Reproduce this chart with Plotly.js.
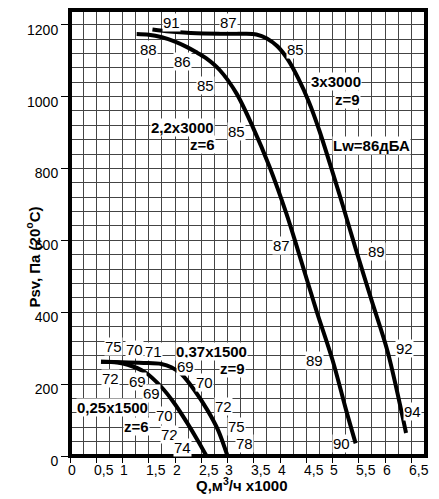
<!DOCTYPE html>
<html>
<head>
<meta charset="utf-8">
<script src="https://cdn.plot.ly/plotly-3.0.1.min.js"></script>
<style>html,body{margin:0;padding:0;background:#fff;}#chart{width:439px;height:499px;}</style>
</head>
<body>
<div id="chart"></div>
<script>
// Curve 3x3000, z=9
const qA = [1.57, 1.9, 2.3, 2.85, 3.3, 3.55, 3.75, 3.95, 4.15, 4.35, 4.55, 4.75, 5.0, 5.2, 5.45, 5.75, 6.05, 6.40];
const pA = [1187, 1181, 1177, 1175, 1175, 1173, 1162, 1140, 1103, 1050, 985, 905, 790, 695, 572, 430, 290, 64];
// Curve 2,2x3000, z=6
const qB = [1.27, 1.5, 1.75, 2.0, 2.21, 2.4, 2.59, 2.85, 3.17, 3.48, 3.80, 4.12, 4.34, 4.69, 5.0, 5.26, 5.44];
const pB = [1174, 1172, 1165, 1153, 1139, 1124, 1107, 1074, 1009, 916, 805, 675, 573, 406, 267, 127, 35];
// Curve 0,37x1500, z=9
const qC = [0.59, 1.0, 1.4, 1.74, 1.93, 2.12, 2.37, 2.62, 2.82, 3.0];
const pC = [262, 261, 259, 256, 247, 228, 183, 127, 72, 0];
// Curve 0,25x1500, z=6
const qD = [0.59, 0.9, 1.10, 1.42, 1.74, 1.99, 2.24, 2.43, 2.6];
const pD = [262, 260, 254, 234, 192, 146, 90, 44, 0];

// Axis ticks
const xTickVals = [0, 0.5, 1, 1.5, 2, 2.5, 3, 3.5, 4, 4.5, 5, 5.5, 6, 6.5];
const xTickText = ['0', '0,5', '1', '1,5', '2', '2,5', '3', '3,5', '4', '4,5', '5', '5,5', '6', '6,5'];
const yTickVals = [0, 200, 400, 600, 800, 1000, 1200];
const yTickText = ['0', '200', '400', '600', '800', '1000', '1200'];

// Chart labels
const lblText = ['91','87','88','86','85','85','3x3000','z=9','2,2x3000','z=6','85','Lw=86дБА','87','89','89','92','90','94',
  '75','70','71','0,37x1500','z=9','69','70','72','75','78','72','69','69','0,25x1500','z=6','70','72','74'];
const lblQ = [1.93,3.01,1.50,2.14,2.58,4.30,5.07,5.29,2.15,2.53,3.17,5.74,4.02,5.83,4.66,6.37,5.17,6.53,
  0.83,1.22,1.59,2.70,3.10,2.20,2.56,2.93,3.17,3.32,0.77,1.28,1.55,0.81,1.27,1.80,1.90,2.15];
const lblP = [1206,1206,1130,1098,1030,1132,1042,991,914,866,904,863,587,570,267,299,35,125,
  304,296,290,290,243,248,204,139,81,36,215,206,174,136,83,113,60,25];
const lblBold = ['3x3000','z=9','2,2x3000','z=6','Lw=86дБА','0,37x1500','0,25x1500'];

const font = 'Liberation Sans, Arial, sans-serif';

const traces = [[qA,pA],[qB,pB],[qC,pC],[qD,pD]].map(([q,p]) => ({
  x: q, y: p, type: 'scatter', mode: 'lines',
  line: {color: '#000', width: 4, shape: 'spline', smoothing: 0.9},
  hoverinfo: 'skip', showlegend: false
}));

const annotations = [];
for (let i = 0; i < lblText.length; i++) {
  const b = lblBold.includes(lblText[i]);
  annotations.push({
    x: lblQ[i], y: lblP[i], xref: 'x', yref: 'y',
    text: b ? '<b>' + lblText[i] + '</b>' : lblText[i],
    showarrow: false, font: {family: font, size: 15, color: '#000'},
    bgcolor: '#fff', borderpad: 0
  });
}
for (let i = 0; i < xTickVals.length; i++) {
  annotations.push({
    x: xTickVals[i], y: 0, xref: 'x', yref: 'paper',
    text: xTickText[i], showarrow: false, xanchor: 'left', yanchor: 'top',
    xshift: -4.5, yshift: -4,
    font: {family: font, size: 14, color: '#000'}
  });
}
annotations.push({
  x: -0.1376, y: 0.446, xref: 'paper', yref: 'paper', textangle: -90,
  text: '<b>Psv, Па (20<sup>o</sup>C)</b>', showarrow: false,
  font: {family: font, size: 15, color: '#000'}
});
annotations.push({
  x: 0.483, y: -0.063, xref: 'paper', yref: 'paper',
  text: '<b>Q,м<sup>3</sup>/ч x1000</b>', showarrow: false, yanchor: 'middle',
  font: {family: font, size: 15, color: '#000'}
});

const layout = {
  width: 439, height: 499,
  margin: {l: 70, r: 13, t: 10, b: 43, pad: 0},
  paper_bgcolor: '#fff', plot_bgcolor: '#fff',
  font: {family: font, size: 14, color: '#000'},
  xaxis: {
    range: [0, 6.78], tickmode: 'array', tickvals: xTickVals, ticktext: xTickText,
    showticklabels: false, ticks: 'outside', ticklen: 6, tickcolor: '#000', tickwidth: 1,
    showgrid: true, gridcolor: '#444', gridwidth: 1, zeroline: false, showline: false,
    minor: {dtick: 0.25, tick0: 0, showgrid: true, gridcolor: '#444', gridwidth: 1, ticks: ''}
  },
  yaxis: {
    range: [0, 1241], tickmode: 'array', tickvals: yTickVals, ticktext: yTickText,
    ticks: 'outside', ticklen: 8, tickcolor: '#000', tickwidth: 1, ticklabelshift: 5,
    tickfont: {family: font, size: 14, color: '#000'},
    showgrid: true, gridcolor: '#444', gridwidth: 1, zeroline: false, showline: false,
    minor: {dtick: 40, tick0: 0, showgrid: true, gridcolor: '#444', gridwidth: 1, ticks: ''}
  },
  shapes: [{type: 'rect', xref: 'paper', yref: 'paper', x0: 0, x1: 1, y0: 0, y1: 1,
    line: {color: '#000', width: 4}, layer: 'above'}],
  annotations: annotations
};

Plotly.newPlot('chart', traces, layout, {staticPlot: true, displayModeBar: false});
</script>
</body>
</html>
